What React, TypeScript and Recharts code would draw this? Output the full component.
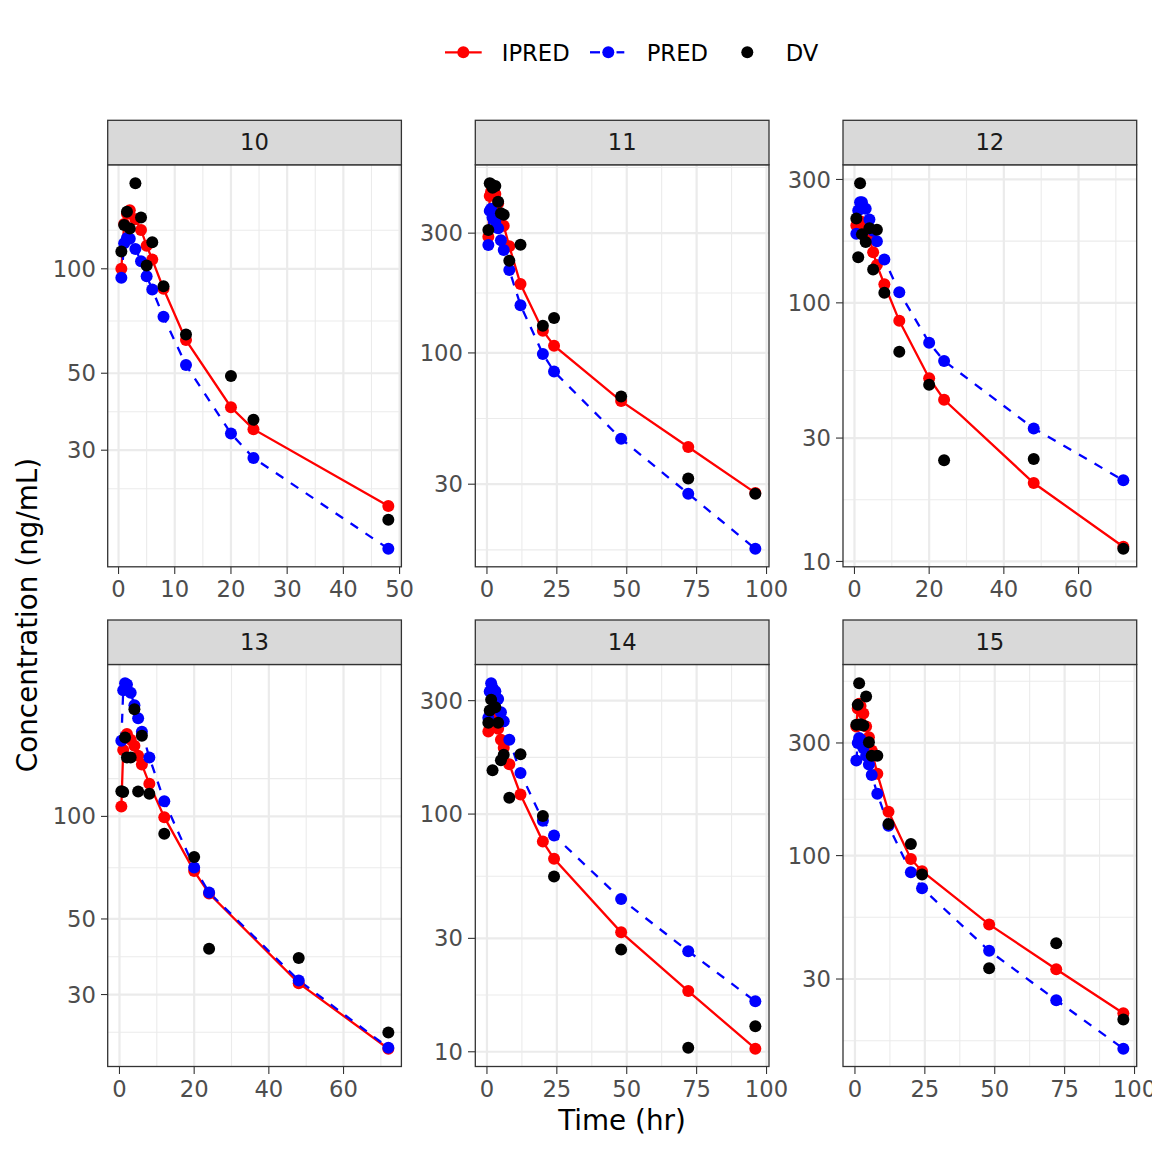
import React from "react";
import { ComposedChart, Line, XAxis, YAxis, CartesianGrid } from "recharts";

// sampling times (hr)
const t48 = [0.5, 1, 1.5, 2, 3, 4, 5, 6, 8, 12, 20, 24, 48];
const t72 = [...t48, 72];
const t96 = [...t72, 96];

// ID 10
const ipred10 = [100, 134.6, 144, 147.6, 139, 129.4, 116.6, 106.3, 87.6, 62.3, 39.9, 34.5, 20.7];
const pred10 = [94.2, 118.4, 122.7, 122, 114.1, 105.1, 95.2, 87.2, 72.7, 52.8, 33.5, 28.5, 15.6];
const dv10 = [112.1, 133.7, 146, 130.7, 176.4, 140.6, 102.2, 119.2, 89, 64.7, 49.1, 36.7, 18.9];

// ID 11
const ipred11 = [290, 422, 440, 445, 430, 395, 355, 321, 266, 188, 122.6, 106.9, 64.3, 42.2, 27.7];
const pred11 = [269, 368, 375, 346, 335, 314, 281, 257, 214, 155, 99.1, 84.3, 45.5, 27.5, 16.6];
const dv11 = [309, 474, 470, 455, 462, 400, 360, 355, 233, 270, 128.4, 137.8, 67.1, 31.6, 27.5];

// ID 12
const ipred12 = [199, 205, 207, 205, 195, 178, 157, 140, 118, 85.2, 51.1, 42.2, 20.1, 11.4];
const pred12 = [185, 227.5, 245, 245, 231, 210, 190, 173, 147, 110, 70.1, 59.6, 32.7, 20.6];
const dv12 = [212, 150, 290, 184, 172, 194.5, 134.5, 191.7, 109.3, 64.7, 48.2, 24.6, 24.9, 11.2];

// ID 13
const ipred13 = [106.9, 156.7, 170, 174.4, 168, 161.2, 150.7, 141.9, 124.6, 99.5, 69.1, 59.4, 32.4, 20.8];
const pred13 = [166.8, 234.5, 245.9, 244, 230.8, 212, 194.2, 177.1, 149, 110.8, 70.8, 59.8, 33, 20.95];
const dv13 = [118.6, 118, 170.5, 149, 149, 206.4, 118.3, 172.4, 116.5, 89, 76, 40.9, 38.4, 23.2];

// ID 14
const ipred14 = [222.7, 255, 265, 260, 245, 228.6, 205.6, 190.3, 162, 120.9, 76.6, 64.8, 31.8, 18, 10.3];
const pred14 = [254, 327.6, 355, 340, 328.6, 305, 268, 246, 205.6, 149, 93.7, 81.2, 43.9, 26.5, 16.3];
const dv14 = [242, 272.8, 303, 152.9, 281.5, 242, 168.4, 177.8, 117, 178.4, 98.1, 54.6, 26.9, 10.4, 12.8];

// ID 15
const ipred15 = [352.6, 420, 440, 430, 400, 352.6, 317, 278.6, 222, 153.2, 96.8, 85.9, 51.1, 33, 21.5];
const pred15 = [252.9, 300, 315, 310, 285.7, 265, 243, 219.3, 183, 133.8, 85, 72.8, 39.5, 24.4, 15.2];
const dv15 = [358, 435, 537, 360, 356, 472, 302, 265, 265, 136, 112, 83.2, 33.3, 42.5, 20.2];

// axis breaks
const xTicks50 = [0, 10, 20, 30, 40, 50];
const xTicks60 = [0, 20, 40, 60];
const xTicks100 = [0, 25, 50, 75, 100];
const yTicks10 = [30, 50, 100];
const yTicks11 = [30, 100, 300];
const yTicks12 = [10, 30, 100, 300];
const yTicks13 = [30, 50, 100];
const yTicks14 = [10, 30, 100, 300];
const yTicks15 = [30, 100, 300];

const panels = [
  { id: "10", time: t48, ipred: ipred10, pred: pred10, dv: dv10, xTicks: xTicks50, yTicks: yTicks10 },
  { id: "11", time: t96, ipred: ipred11, pred: pred11, dv: dv11, xTicks: xTicks100, yTicks: yTicks11 },
  { id: "12", time: t72, ipred: ipred12, pred: pred12, dv: dv12, xTicks: xTicks60, yTicks: yTicks12 },
  { id: "13", time: t72, ipred: ipred13, pred: pred13, dv: dv13, xTicks: xTicks60, yTicks: yTicks13 },
  { id: "14", time: t96, ipred: ipred14, pred: pred14, dv: dv14, xTicks: xTicks100, yTicks: yTicks14 },
  { id: "15", time: t96, ipred: ipred15, pred: pred15, dv: dv15, xTicks: xTicks100, yTicks: yTicks15 },
];

const FONT = "DejaVu Sans";
const SMALL = 22.7;
const COL_LEFT = [107.7, 475.3, 843];
const ROW_TOP = [164.8, 664.5];
const PW = 293.7;
const PH = 402;
const STRIP_H = 44.5;
const YW = 80;
const XH = 45;
const RM = 40;
const GRID = "#EBEBEB";
const DOT_R = 6;
const LW = 2.3;

function expand(lo: number, hi: number): [number, number] {
  const pad = (hi - lo) * 0.05;
  return [lo - pad, hi + pad];
}

// ggplot-style minor breaks: midpoints between majors, extended one step past the ends
function minorBreaks(major: number[], dom: [number, number], log: boolean) {
  const f = log ? Math.log10 : (v: number) => v;
  const inv = log ? (v: number) => Math.pow(10, v) : (v: number) => v;
  let b = major.map(f);
  const bd = b[1] - b[0];
  const lo = f(dom[0]);
  const hi = f(dom[1]);
  if (lo < b[0]) b = [b[0] - bd, ...b];
  if (hi > b[b.length - 1]) b = [...b, b[b.length - 1] + bd];
  const out: number[] = [];
  for (let i = 0; i < b.length - 1; i++) out.push((b[i] + b[i + 1]) / 2);
  return out.filter((v) => v > lo && v < hi).map(inv);
}

function Panel({ p, left, top }: { p: any; left: number; top: number }) {
  const rows = p.time.map((t: number, i: number) => ({
    time: t,
    ipred: p.ipred[i],
    pred: p.pred[i],
    dv: p.dv[i],
  }));
  const all = [...p.ipred, ...p.pred, ...p.dv];
  const ly = expand(Math.log10(Math.min(...all)), Math.log10(Math.max(...all)));
  const yDom: [number, number] = [Math.pow(10, ly[0]), Math.pow(10, ly[1])];
  const xDom = expand(Math.min(...p.time), Math.max(...p.time));
  const yMinor = minorBreaks(p.yTicks, yDom, true);
  const xMinor = minorBreaks(p.xTicks, xDom, false);
  const tick = { fill: "#4D4D4D", fontSize: SMALL, fontFamily: FONT };
  const tickLine = { stroke: "#333333", strokeWidth: 1.1 };

  return (
    <div style={{ position: "absolute", left: left - YW, top }}>
      <ComposedChart
        width={YW + PW + RM}
        height={PH + XH}
        data={rows}
        margin={{ top: 0, right: RM, bottom: 0, left: 0 }}
      >
        <CartesianGrid stroke={GRID} strokeWidth={1.1} horizontalValues={yMinor} verticalValues={xMinor} />
        <CartesianGrid stroke={GRID} strokeWidth={2.2} horizontalValues={p.yTicks} verticalValues={p.xTicks} />
        <XAxis
          dataKey="time"
          type="number"
          domain={xDom}
          allowDataOverflow
          ticks={p.xTicks}
          interval={0}
          height={XH}
          axisLine={false}
          tickLine={tickLine}
          tickSize={7}
          tickMargin={7}
          tick={tick}
        />
        <YAxis
          type="number"
          scale="log"
          domain={yDom}
          allowDataOverflow
          ticks={p.yTicks}
          interval={0}
          width={YW}
          axisLine={false}
          tickLine={tickLine}
          tickSize={7}
          tickMargin={5}
          tick={tick}
          tickFormatter={(v: number) => String(v)}
        />
        <Line
          dataKey="ipred"
          stroke="#FF0000"
          strokeWidth={LW}
          dot={{ r: DOT_R, fill: "#FF0000", stroke: "none" }}
          activeDot={false}
          isAnimationActive={false}
        />
        <Line
          dataKey="pred"
          stroke="#0000FF"
          strokeWidth={LW}
          strokeDasharray="9 9"
          dot={{ r: DOT_R, fill: "#0000FF", stroke: "none", strokeDasharray: "0" }}
          activeDot={false}
          isAnimationActive={false}
        />
        <Line
          dataKey="dv"
          stroke="none"
          dot={{ r: DOT_R, fill: "#000000", stroke: "none" }}
          activeDot={false}
          isAnimationActive={false}
        />
      </ComposedChart>
    </div>
  );
}

export default function App() {
  const legendText = { fontSize: SMALL, fontFamily: FONT, fill: "#000000" };
  return (
    <div
      style={{
        position: "absolute",
        left: 0,
        top: 0,
        width: 1152,
        height: 1152,
        overflow: "hidden",
        background: "#FFFFFF",
        fontFamily: FONT,
      }}
    >
      {panels.map((p, i) => (
        <Panel key={p.id} p={p} left={COL_LEFT[i % 3]} top={ROW_TOP[Math.floor(i / 3)]} />
      ))}
      <svg
        width={1152}
        height={1152}
        style={{ position: "absolute", left: 0, top: 0, pointerEvents: "none" }}
      >
        {panels.map((p, i) => {
          const x = COL_LEFT[i % 3];
          const y = ROW_TOP[Math.floor(i / 3)];
          return (
            <g key={p.id}>
              <rect x={x} y={y} width={PW} height={PH} fill="none" stroke="#333333" strokeWidth={1.3} />
              <rect x={x} y={y - STRIP_H} width={PW} height={STRIP_H} fill="#D9D9D9" stroke="#333333" strokeWidth={1.3} />
              <text
                x={x + PW / 2}
                y={y - STRIP_H / 2 + 7.8}
                textAnchor="middle"
                fontSize={SMALL}
                fontFamily={FONT}
                fill="#1A1A1A"
              >
                {p.id}
              </text>
            </g>
          );
        })}

        {/* legend */}
        <line x1={445} x2={481.7} y1={52.3} y2={52.3} stroke="#FF0000" strokeWidth={LW} />
        <circle cx={463.3} cy={52.3} r={DOT_R} fill="#FF0000" />
        <text x={501.7} y={61} {...legendText}>IPRED</text>
        <line x1={590} x2={600} y1={52.3} y2={52.3} stroke="#0000FF" strokeWidth={LW} />
        <line x1={616.5} x2={624.3} y1={52.3} y2={52.3} stroke="#0000FF" strokeWidth={LW} />
        <circle cx={608.3} cy={52.3} r={DOT_R} fill="#0000FF" />
        <text x={646.7} y={61} {...legendText}>PRED</text>
        <circle cx={747.3} cy={52.3} r={DOT_R} fill="#000000" />
        <text x={785.7} y={61} {...legendText}>DV</text>

        {/* axis titles */}
        <text x={622} y={1130} textAnchor="middle" fontSize={27.8} fontFamily={FONT} fill="#000000">
          Time (hr)
        </text>
        <text
          transform="translate(37,615) rotate(-90)"
          textAnchor="middle"
          fontSize={27.8}
          fontFamily={FONT}
          fill="#000000"
        >
          Concentration (ng/mL)
        </text>
      </svg>
    </div>
  );
}
